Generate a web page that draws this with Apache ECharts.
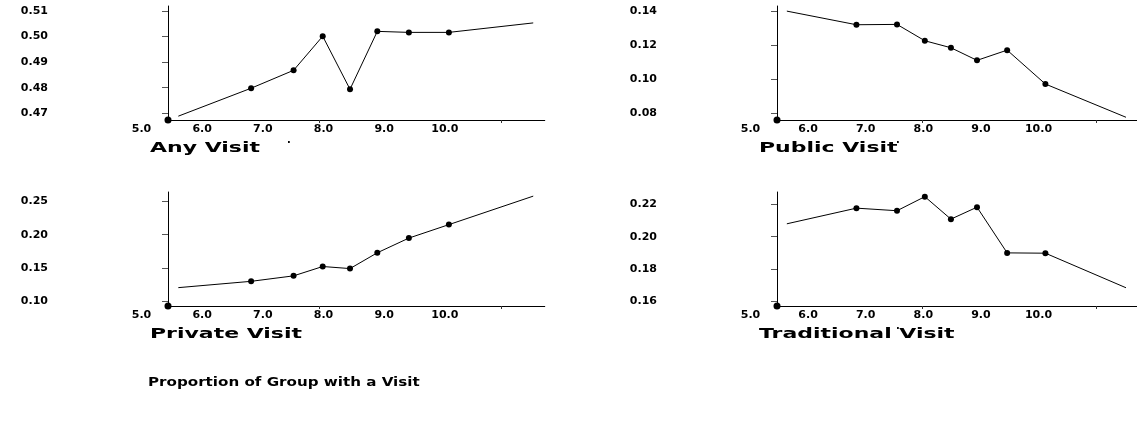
<!DOCTYPE html>
<html>
<head>
<meta charset="utf-8">
<script src="https://cdn.jsdelivr.net/npm/echarts@6/dist/echarts.min.js"></script>
<style>
html, body { margin: 0; background: #fff; }
#chart { width: 1137px; height: 424px; }
</style>
</head>
<body>
<div id="chart"></div>
<script>
// x positions shared by all four panels
var xPoints = [6.87, 7.57, 8.05, 8.5, 8.95, 9.47, 10.13];
var xLineEnds = [5.67, 11.52];
var xTickLabels = [5, 6, 7, 8, 9, 10];
var xTicks = [8, 11];

var anyVisit = [0.4798, 0.4868, 0.5001, 0.4794, 0.5020, 0.5016, 0.5016];
var anyEnds = [0.4689, 0.5053];
var anyTicks = [0.47, 0.48, 0.49, 0.50, 0.51];

var publicVisit = [0.1320, 0.1322, 0.1226, 0.1185, 0.1111, 0.1171, 0.0972];
var publicEnds = [0.1400, 0.0777];
var publicTicks = [0.08, 0.10, 0.12, 0.14];

var privateVisit = [0.1301, 0.1383, 0.1523, 0.1492, 0.1729, 0.1949, 0.2151];
var privateEnds = [0.1206, 0.2578];
var privateTicks = [0.10, 0.15, 0.20, 0.25];

var tradVisit = [0.2177, 0.2161, 0.2248, 0.2109, 0.2183, 0.1900, 0.1898];
var tradEnds = [0.2080, 0.1684];
var tradTicks = [0.16, 0.18, 0.20, 0.22];

var panels = [
    {title: 'Any Visit', vals: anyVisit, ends: anyEnds, ticks: anyTicks, min: 0.4674, max: 0.5119, left: 168, top: 6},
    {title: 'Public Visit', vals: publicVisit, ends: publicEnds, ticks: publicTicks, min: 0.0761, max: 0.1430, left: 777, top: 6},
    {title: 'Private Visit', vals: privateVisit, ends: privateEnds, ticks: privateTicks, min: 0.0931, max: 0.2640, left: 168, top: 192},
    {title: 'Traditional Visit', vals: tradVisit, ends: tradEnds, ticks: tradTicks, min: 0.1571, max: 0.2277, left: 777, top: 192}
];

var FONT = '"DejaVu Sans", sans-serif';
var XMIN = 5.5, XMAX = 11.71, PXU = 60.67;
var PH = 114;

var grids = [], xAxes = [], yAxes = [], series = [], graphics = [];

panels.forEach(function(p, i) {
    var w = (XMAX - XMIN) * PXU;
    grids.push({left: p.left, top: p.top, width: w, height: PH});
    xAxes.push({
        type: 'value', gridIndex: i, min: XMIN, max: XMAX,
        axisLine: {lineStyle: {color: '#000', width: 1}},
        axisTick: {customValues: xTicks, length: 3, lineStyle: {color: '#333'}},
        axisLabel: {show: false},
        splitLine: {show: false}
    });
    yAxes.push({
        type: 'value', gridIndex: i, min: p.min, max: p.max,
        axisLine: {show: true, lineStyle: {color: '#000', width: 1}},
        axisTick: {show: true, customValues: p.ticks, length: 6, lineStyle: {color: '#555'}},
        axisLabel: {
            customValues: p.ticks, margin: 120, padding: [4, 0, 0, 0],
            color: '#000', fontFamily: FONT, fontWeight: 'bold', fontSize: 11,
            formatter: function(v) { return v.toFixed(2); }
        },
        splitLine: {show: false}
    });

    var data = [{value: [xLineEnds[0], p.ends[0]], symbol: 'none'}];
    xPoints.forEach(function(x, k) { data.push([x, p.vals[k]]); });
    data.push({value: [xLineEnds[1], p.ends[1]], symbol: 'none'});
    series.push({
        type: 'line', xAxisIndex: i, yAxisIndex: i, data: data,
        symbol: 'circle', symbolSize: 6, showSymbol: true,
        itemStyle: {color: '#000'}, lineStyle: {color: '#000', width: 1}
    });
    series.push({
        type: 'scatter', xAxisIndex: i, yAxisIndex: i, clip: false,
        data: [[XMIN, p.min]], symbolSize: 7, itemStyle: {color: '#000', opacity: 1}
    });

    graphics.push({
        type: 'text', x: p.left - 18, y: p.top + 142, scaleX: 1.57,
        style: {text: p.title, fill: '#000', font: 'bold 14px ' + FONT, verticalAlign: 'middle'}
    });
    graphics.push({
        type: 'text', x: p.left + 119, y: p.top + 134,
        style: {text: '.', fill: '#000', font: 'bold 10px ' + FONT, verticalAlign: 'middle'}
    });
});

// label-only axes: tick labels start at 5.0, left of the plotted axis
panels.forEach(function(p, i) {
    var lblLeft = p.left - 26.5;
    grids.push({left: lblLeft, top: p.top + PH - 1, width: (XMAX - 5) * PXU, height: 1});
    xAxes.push({
        type: 'value', gridIndex: 4 + i, min: 5, max: XMAX,
        axisLine: {show: false}, axisTick: {show: false}, splitLine: {show: false},
        axisLabel: {
            customValues: xTickLabels, margin: 4,
            color: '#000', fontFamily: FONT, fontWeight: 'bold', fontSize: 11,
            formatter: function(v) { return v.toFixed(1); }
        }
    });
    yAxes.push({type: 'value', gridIndex: 4 + i, show: false, min: 0, max: 1});
});

graphics.push({
    type: 'text', x: 148, y: 383, scaleX: 1.26,
    style: {text: 'Proportion of Group with a Visit', fill: '#000', font: 'bold 12px ' + FONT, verticalAlign: 'middle'}
});

var chart = echarts.init(document.getElementById('chart'));
chart.setOption({
    animation: false,
    backgroundColor: '#fff',
    grid: grids,
    xAxis: xAxes,
    yAxis: yAxes,
    series: series,
    graphic: graphics
});
window.addEventListener('resize', function() { chart.resize(); });
</script>
</body>
</html>
